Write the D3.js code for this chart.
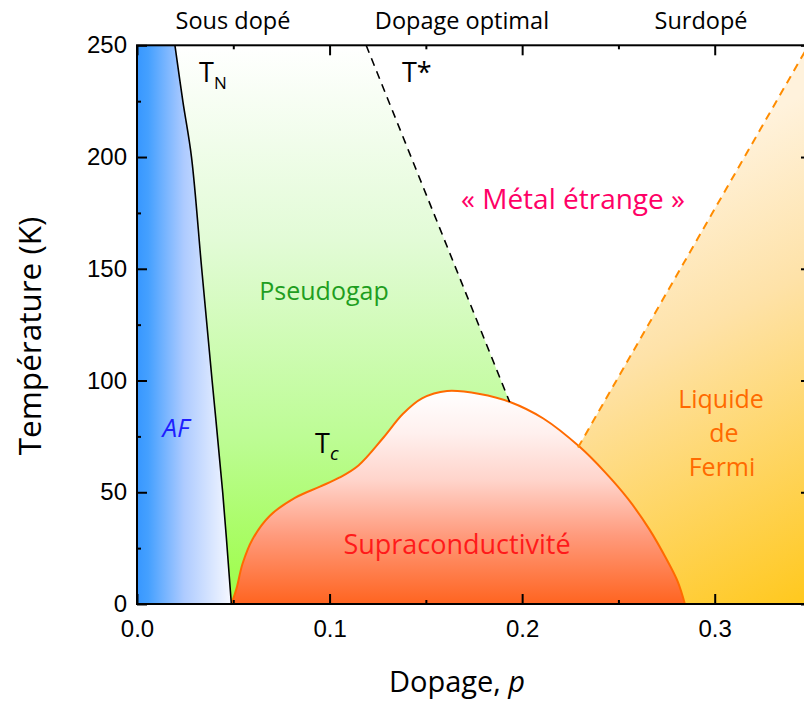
<!DOCTYPE html>
<html><head><meta charset="utf-8">
<script src="https://cdn.jsdelivr.net/npm/d3@7"></script>
<style>
body{margin:0;background:#fff;}
svg{display:block;}
.lbl{font-family:"Open Sans",sans-serif;}
.tick text{font-family:"Liberation Sans",Arial,sans-serif;font-size:24px;fill:#000;}
</style></head>
<body>
<svg id="c" width="804" height="702"></svg>
<script>
// ---- data ----
const xTicks = [0, 0.1, 0.2, 0.3];
const xTickLabels = ["0.0", "0.1", "0.2", "0.3"];
const xMinor = [0.05, 0.15, 0.25, 0.35];
const yTicks = [0, 50, 100, 150, 200, 250];
const yMinor = [25, 75, 125, 175, 225];
// Néel temperature T_N (p, T)
const tnLine = [[0.049,0],[0.0445,50],[0.039,100],[0.0336,150],[0.0283,200],[0.0238,225],[0.0197,250]];
// pseudogap T* (p, T)
const tStarLine = [[0.119,250],[0.1935,90.4]];
// superconducting dome Tc (p, T)
const tcDome = [[0.049,0],[0.0517,7],[0.0548,18],[0.060,29],[0.069,39.5],[0.082,47.5],[0.095,52.5],[0.105,56.5],[0.115,62],[0.128,74.5],[0.138,85],[0.148,92],[0.161,95.3],[0.178,94],[0.1937,90.4],[0.211,83],[0.230,70.2],[0.243,59],[0.255,47],[0.266,33.5],[0.275,20],[0.2808,10],[0.2845,0]];
// Fermi-liquid crossover (p, T)
const fermiLine = [[0.229,70],[0.36,267]];
// region outlines beyond the curves
const afCorners = [[0,250],[0,0]];
const pgCorners = [[0.1935,0]];
const flCorners = [[0.36,0],[0.25,0]];

// ---- layout ----
const svg = d3.select("#c");
const x = d3.scaleLinear().domain([0, 0.35]).range([137, 811]);
const y = d3.scaleLinear().domain([0, 250]).range([604, 45.3]);
const pt = d => [x(d[0]), y(d[1])];

const defs = svg.append("defs");
defs.append("clipPath").attr("id","plot").append("rect")
  .attr("x",137).attr("y",45.3).attr("width",674).attr("height",604-45.3);

function grad(id, x1,y1,x2,y2, stops){
  const g = defs.append("linearGradient").attr("id",id).attr("gradientUnits","userSpaceOnUse")
    .attr("x1",x1).attr("y1",y1).attr("x2",x2).attr("y2",y2);
  stops.forEach(s=>g.append("stop").attr("offset",s[0]).attr("stop-color",s[1]));
}
grad("gAF", x(0), 0, x(0.049), 0, [[0,"#3797ff"],[0.12,"#45a0ff"],[0.5,"#aecbff"],[1,"#f6f8ff"]]);
grad("gPG", 0, y(250), 0, y(0), [[0,"#ffffff"],[0.35,"#e2fbd6"],[0.7,"#bdfc95"],[1,"#9cfd45"]]);
grad("gSC", 0, y(95.5), 0, y(0), [[0,"#ffffff"],[0.2,"#fff0ee"],[0.42,"#ffd4cb"],[0.68,"#ff9a7c"],[1,"#ff6420"]]);
grad("gFL", x(0.24), y(180), x(0.35), y(0), [[0,"#fff2dc"],[0.35,"#fee2a8"],[1,"#ffc81c"]]);

const g = svg.append("g").attr("clip-path","url(#plot)");
const lineC = d3.line().x(d=>x(d[0])).y(d=>y(d[1]));

// AF region
const tnCurve = d3.line().x(d=>x(d[0])).y(d=>y(d[1])).curve(d3.curveCatmullRom.alpha(0.5));
g.append("path").attr("d", tnCurve(tnLine) + "L" + afCorners.map(d=>pt(d).join(",")).join("L") + "Z")
  .attr("fill","url(#gAF)");
// Pseudogap region
g.append("path").attr("d", tnCurve(tnLine) + "L" + tStarLine.concat(pgCorners).map(d=>pt(d).join(",")).join("L") + "Z")
  .attr("fill","url(#gPG)");
// Fermi liquid region
g.append("path").attr("d", lineC(fermiLine.concat(flCorners)) + "Z").attr("fill","url(#gFL)");
// SC dome
const domeC = d3.line().x(d=>x(d[0])).y(d=>y(d[1])).curve(d3.curveCatmullRom.alpha(0.5));
g.append("path").attr("d", domeC(tcDome) + "Z").attr("fill","url(#gSC)");
g.append("path").attr("d", domeC(tcDome)).attr("fill","none").attr("stroke","#ff6a00").attr("stroke-width",2);
// lines
g.append("path").attr("d", tnCurve(tnLine)).attr("fill","none").attr("stroke","#000").attr("stroke-width",1.6);
g.append("path").attr("d", lineC(tStarLine)).attr("fill","none").attr("stroke","#000").attr("stroke-width",1.6).attr("stroke-dasharray","8,6");
g.append("path").attr("d", lineC(fermiLine)).attr("fill","none").attr("stroke","#ff8c00").attr("stroke-width",2).attr("stroke-dasharray","8,6");

// ---- axes ----
function styleAxis(sel){ sel.select(".domain").remove(); sel.selectAll("line").attr("stroke","#000").attr("stroke-width",2); }
svg.append("g").attr("transform","translate(0,604)")
  .call(d3.axisBottom(x).tickValues(xTicks).tickSize(-10).tickPadding(16).tickFormat((d,i)=>xTickLabels[i])).call(styleAxis);
svg.append("g").attr("transform","translate(0,604)")
  .call(d3.axisBottom(x).tickValues(xMinor).tickSize(-4).tickFormat("")).call(styleAxis);
svg.append("g").attr("transform","translate(0,45.3)")
  .call(d3.axisTop(x).tickValues(xTicks).tickSize(-10).tickFormat("")).call(styleAxis);
svg.append("g").attr("transform","translate(0,45.3)")
  .call(d3.axisTop(x).tickValues(xMinor).tickSize(-4).tickFormat("")).call(styleAxis);
svg.append("g").attr("transform","translate(137,0)")
  .call(d3.axisLeft(y).tickValues(yTicks).tickSize(-10).tickPadding(10)).call(styleAxis);
svg.append("g").attr("transform","translate(137,0)")
  .call(d3.axisLeft(y).tickValues(yMinor).tickSize(-4).tickFormat("")).call(styleAxis);
svg.append("g").attr("transform","translate(811,0)")
  .call(d3.axisRight(y).tickValues(yTicks).tickSize(-10).tickFormat("")).call(styleAxis);
svg.append("g").attr("transform","translate(811,0)")
  .call(d3.axisRight(y).tickValues(yMinor).tickSize(-4).tickFormat("")).call(styleAxis);
svg.append("rect").attr("x",137).attr("y",45.3).attr("width",674).attr("height",604-45.3)
  .attr("fill","none").attr("stroke","#000").attr("stroke-width",2);

// ---- texts ----
function txt(xp, yp, s, size, color, anchor, style){
  return svg.append("text").attr("class","lbl").attr("x",xp).attr("y",yp).attr("font-size",size)
    .attr("fill",color).attr("text-anchor",anchor||"middle").attr("font-style",style||"normal").text(s);
}
txt(233, 29, "Sous dopé", 23.5, "#000");
txt(462, 29, "Dopage optimal", 23.5, "#000");
txt(701, 29, "Surdopé", 23.5, "#000");
txt(573, 209, "« Métal étrange »", 28, "#ff0066");
txt(324, 300, "Pseudogap", 25, "#1f9e1f");
txt(176, 437, "AF", 26, "#1e1eff", "middle", "italic");
txt(457, 554, "Supraconductivité", 27, "#ff1a1a");
txt(721, 408, "Liquide", 25, "#ff6a00");
txt(724, 442, "de", 25, "#ff6a00");
txt(722, 476, "Fermi", 25, "#ff6a00");
// T_N
const tn = txt(199, 82, "T", 27, "#000", "start");
tn.append("tspan").attr("font-size",17).attr("dy",7).text("N");
// T*
txt(402, 82, "T*", 27, "#000", "start");
// T_c
const tc = txt(315, 453, "T", 27, "#000", "start");
tc.append("tspan").attr("font-size",19).attr("dy",7).attr("font-style","italic").text("c");

// axis titles
svg.append("text").attr("class","lbl").attr("transform","translate(41,336) rotate(-90)")
  .attr("text-anchor","middle").attr("font-size",31.5).text("Température (K)");
const xt = svg.append("text").attr("class","lbl").attr("x",457).attr("y",692)
  .attr("text-anchor","middle").attr("font-size",29).text("Dopage, ");
xt.append("tspan").attr("font-style","italic").text("p");
</script>
</body></html>
